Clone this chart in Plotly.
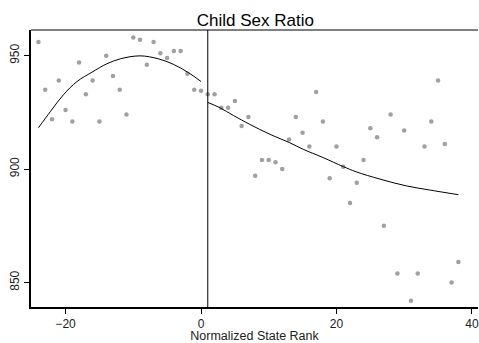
import plotly.graph_objects as go

# Scatter data: normalized state rank vs child sex ratio
rank = list(range(-24, 39))
ratio = [956, 935, 922, 939, 926, 921, 947, 933, 939, 921, 950, 941, 935, 924,
         958, 957, 946, 956, 951, 949, 952, 952, 942, 935, 934.5,
         933, 933, 927, 927, 930, 919, 923, 897, 904, 904, 903, 900, 913, 923,
         916, 910, 934, 921, 896, 910, 901, 885, 894, 904, 918, 914, 875, 924,
         854, 917, 842, 854, 910, 921, 939, 911, 850, 859]

# Fitted curves
left_x = [-24, -22.2, -20.3, -18.3, -16.1, -13.9, -11.9, -9, -6.3, -4.1, -1.9, 0]
left_y = [918.2, 925.5, 932.8, 938.6, 942.7, 946.4, 948.6, 949.9, 948.6, 946.2, 942.6, 938.6]
right_x = [1, 2.8, 4.8, 7.2, 10.2, 13.1, 15.1, 18, 21, 22.9, 26.4, 30.3, 33.7, 38]
right_y = [929.4, 927.0, 923.6, 919.7, 915.3, 911.6, 908.7, 905.1, 901.1, 898.8, 895.6, 892.6, 890.8, 888.7]

cutoff = 1
x_ticks = [-20, 0, 20, 40]
y_ticks = [850, 900, 950]

font = "Arial, Liberation Sans, sans-serif"

fig = go.Figure()
fig.add_trace(go.Scatter(x=rank, y=ratio, mode="markers",
                         marker=dict(color="#a0a0a0", size=4.5, line=dict(width=0)),
                         showlegend=False))
fig.add_trace(go.Scatter(x=left_x, y=left_y, mode="lines", line=dict(color="black", width=1, shape="spline"),
                         showlegend=False))
fig.add_trace(go.Scatter(x=right_x, y=right_y, mode="lines", line=dict(color="black", width=1, shape="spline"),
                         showlegend=False))

fig.add_shape(type="line", xref="x", yref="paper", x0=cutoff, x1=cutoff, y0=0, y1=1,
              line=dict(color="black", width=1))
fig.add_shape(type="line", xref="paper", yref="paper", x0=0, x1=1, y0=1, y1=1,
              line=dict(color="black", width=1))

fig.update_layout(
    width=479, height=343,
    margin=dict(l=31, r=0, t=30, b=34),
    paper_bgcolor="white", plot_bgcolor="white",
    font=dict(family=font, color="#222", size=12),
    title=dict(text="Child Sex Ratio", x=0.533, xanchor="center", y=0.942, yanchor="middle",
               font=dict(size=17, color="black", family=font)),
    xaxis=dict(range=[-25.1, 40.9], tickvals=x_ticks, showgrid=False, zeroline=False,
               showline=True, linecolor="black", linewidth=1.5,
               ticks="outside", ticklen=5, tickcolor="black", ticklabeloverflow="allow",
               title=dict(text="Normalized State Rank", standoff=3, font=dict(size=12.5))),
    yaxis=dict(range=[839.2, 961.3], tickvals=y_ticks, showgrid=False, zeroline=False,
               showline=True, linecolor="black", linewidth=1.5,
               ticks="outside", ticklen=5, tickcolor="black", tickangle=-90),
)

fig.write_html("out.html")
